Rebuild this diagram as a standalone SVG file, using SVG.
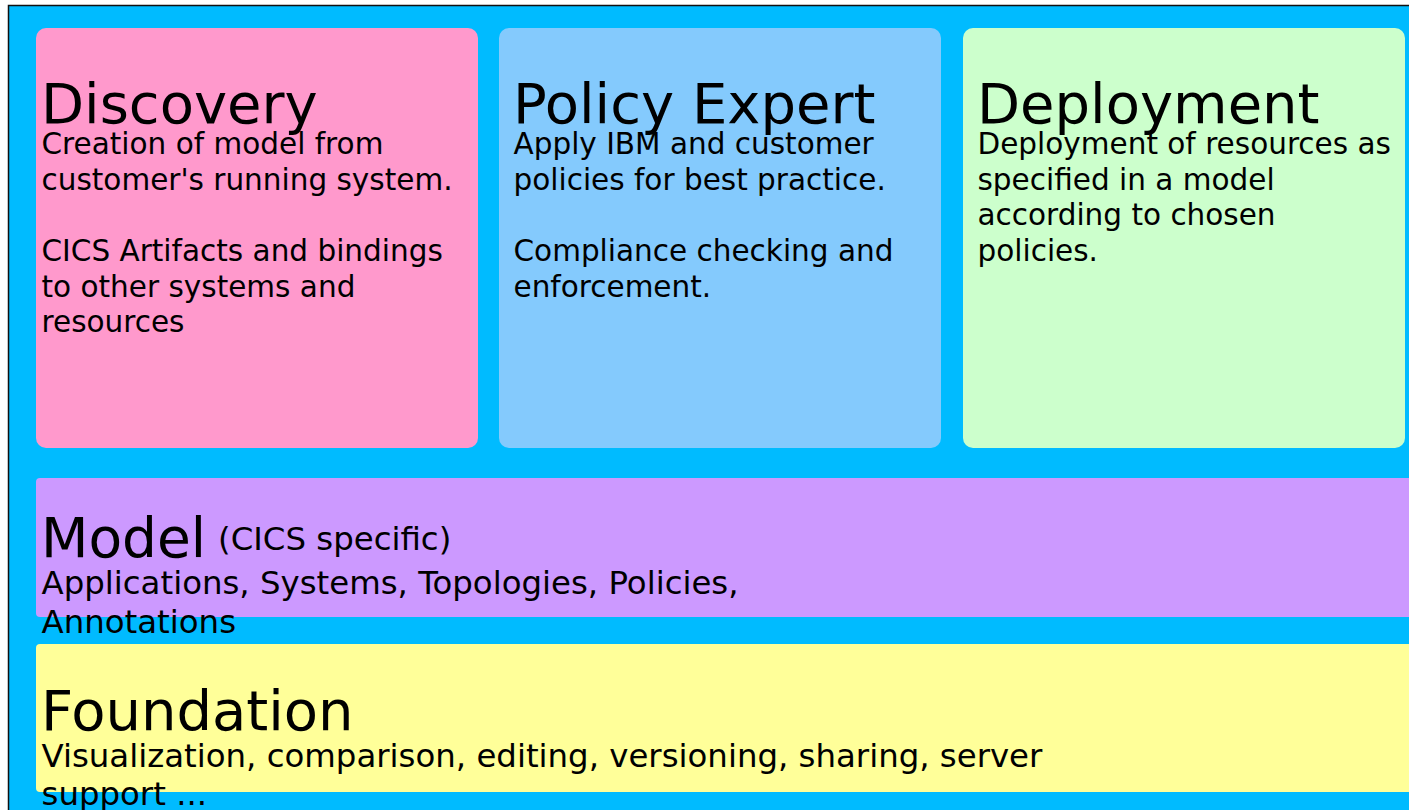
<svg xmlns="http://www.w3.org/2000/svg" width="1409" height="810" viewBox="0 0 1409 810">
<style>
text{font-family:"DejaVu Sans",Verdana,sans-serif;fill:#000}
.t{font-size:56px}
.b{font-size:29.5px}
.m{font-size:32.4px}
</style>
<rect x="0" y="0" width="1409" height="810" fill="#fff"/>
<rect id="frame" x="8.5" y="5.5" width="1420" height="830" fill="#00BBFF" stroke="#111" stroke-width="1.5"/>
<g id="discovery">
<rect x="36" y="28" width="442" height="420" rx="10" fill="#FF99CC"/>
<text class="t" x="41" y="123">Discovery</text>
<text class="b" x="41.5" y="154">Creation of model from</text>
<text class="b" x="41.5" y="189.5">customer's running system.</text>
<text class="b" x="41.5" y="261">CICS Artifacts and bindings</text>
<text class="b" x="41.5" y="296.5">to other systems and</text>
<text class="b" x="41.5" y="332">resources</text>
</g>
<g id="policy">
<rect x="499" y="28" width="442" height="420" rx="10" fill="#84CAFD"/>
<text class="t" x="513" y="123">Policy Expert</text>
<text class="b" x="513.5" y="154">Apply IBM and customer</text>
<text class="b" x="513.5" y="189.5">policies for best practice.</text>
<text class="b" x="513.5" y="261">Compliance checking and</text>
<text class="b" x="513.5" y="296.5">enforcement.</text>
</g>
<g id="deployment">
<rect x="963" y="28" width="442" height="420" rx="10" fill="#CCFFCC"/>
<text class="t" x="977" y="123">Deployment</text>
<text class="b" x="977.5" y="154">Deployment of resources as</text>
<text class="b" x="977.5" y="189.5">specified in a model</text>
<text class="b" x="977.5" y="225">according to chosen</text>
<text class="b" x="977.5" y="261">policies.</text>
</g>
<g id="model">
<rect x="36" y="478" width="1400" height="139" rx="4" fill="#CC99FF"/>
<text x="41" y="557" font-size="55">Model</text>
<text class="m" x="218" y="550">(CICS specific)</text>
<text class="m" x="41.5" y="594">Applications, Systems, Topologies, Policies,</text>
<text class="m" x="41.5" y="633">Annotations</text>
</g>
<g id="foundation">
<rect x="36" y="644" width="1400" height="148" rx="4" fill="#FFFF99"/>
<text class="t" x="41" y="730">Foundation</text>
<text class="m" x="41.5" y="767">Visualization, comparison, editing, versioning, sharing, server</text>
<text class="m" x="41.5" y="805">support ...</text>
</g>
<g id="connectors"/>
</svg>
